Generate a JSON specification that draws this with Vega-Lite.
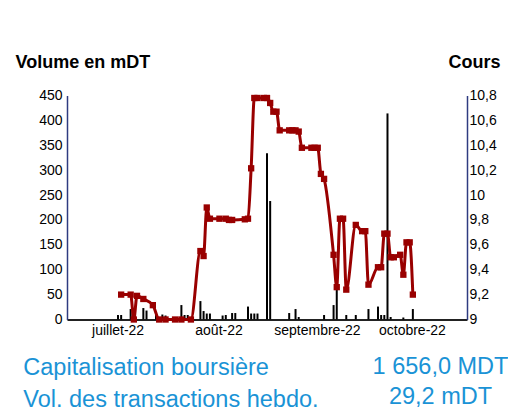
{
  "$schema": "https://vega.github.io/schema/vega-lite/v6.json",
  "width": 400,
  "height": 224,
  "autosize": "none",
  "padding": {"left": 67, "top": 95.5, "right": 41, "bottom": 94.5},
  "background": "white",
  "config": {
    "view": {"stroke": null},
    "font": "Liberation Sans",
    "axis": {"grid": false, "ticks": false, "tickSize": 0, "labelFont": "Liberation Sans", "labelFontSize": 14, "labelColor": "#000", "titleFont": "Liberation Sans", "labelOverlap": false}
  },
  "title": {
    "text": ["Capitalisation boursière", "Vol. des transactions hebdo."],
    "orient": "bottom", "anchor": "start", "frame": "group",
    "font": "Liberation Sans", "fontSize": 23.5, "fontWeight": "normal", "color": "#1a93d6",
    "lineHeight": 32, "baseline": "alphabetic", "offset": 0, "dx": -43.7, "dy": -33
  },
  "datasets": {
    "vol": [
      {"date": "2022-07-15T12:00", "volume": 9},
      {"date": "2022-07-16T12:00", "volume": 9},
      {"date": "2022-07-19T12:00", "volume": 21},
      {"date": "2022-07-23T12:00", "volume": 23},
      {"date": "2022-07-24T12:00", "volume": 18},
      {"date": "2022-07-27T12:00", "volume": 9},
      {"date": "2022-07-29T12:00", "volume": 10},
      {"date": "2022-07-30T12:00", "volume": 8},
      {"date": "2022-08-04T12:00", "volume": 29},
      {"date": "2022-08-05T12:00", "volume": 9},
      {"date": "2022-08-06T12:00", "volume": 9},
      {"date": "2022-08-10T12:00", "volume": 37},
      {"date": "2022-08-11T12:00", "volume": 17},
      {"date": "2022-08-12T12:00", "volume": 12},
      {"date": "2022-08-13T12:00", "volume": 12},
      {"date": "2022-08-17T12:00", "volume": 8},
      {"date": "2022-08-18T12:00", "volume": 9},
      {"date": "2022-08-20T12:00", "volume": 13},
      {"date": "2022-08-21T12:00", "volume": 13},
      {"date": "2022-08-25T12:00", "volume": 26},
      {"date": "2022-08-26T12:00", "volume": 12},
      {"date": "2022-08-27T12:00", "volume": 12},
      {"date": "2022-08-28T12:00", "volume": 12},
      {"date": "2022-08-31T12:00", "volume": 334},
      {"date": "2022-09-01T12:00", "volume": 238},
      {"date": "2022-09-07T12:00", "volume": 13},
      {"date": "2022-09-09T12:00", "volume": 21},
      {"date": "2022-09-10T12:00", "volume": 5},
      {"date": "2022-09-18T12:00", "volume": 9},
      {"date": "2022-09-21T12:00", "volume": 29},
      {"date": "2022-09-22T12:00", "volume": 66},
      {"date": "2022-09-25T12:00", "volume": 9},
      {"date": "2022-09-28T12:00", "volume": 9},
      {"date": "2022-10-02T12:00", "volume": 21},
      {"date": "2022-10-05T12:00", "volume": 26},
      {"date": "2022-10-06T12:00", "volume": 9},
      {"date": "2022-10-07T12:00", "volume": 9},
      {"date": "2022-10-08T12:00", "volume": 414},
      {"date": "2022-10-09T12:00", "volume": 5},
      {"date": "2022-10-13T12:00", "volume": 4},
      {"date": "2022-10-16T12:00", "volume": 21}
    ],
    "cours": [
      {"date": "2022-07-16T12:00", "cours": 9.2},
      {"date": "2022-07-19T12:00", "cours": 9.2},
      {"date": "2022-07-20T12:00", "cours": 9.0},
      {"date": "2022-07-21T12:00", "cours": 9.19},
      {"date": "2022-07-23T12:00", "cours": 9.165},
      {"date": "2022-07-26T12:00", "cours": 9.115},
      {"date": "2022-07-28T12:00", "cours": 9.0},
      {"date": "2022-07-30T12:00", "cours": 9.0},
      {"date": "2022-08-02T12:00", "cours": 9.0},
      {"date": "2022-08-04T12:00", "cours": 9.0},
      {"date": "2022-08-07T12:00", "cours": 9.0},
      {"date": "2022-08-10T12:00", "cours": 9.55},
      {"date": "2022-08-11T12:00", "cours": 9.51},
      {"date": "2022-08-12T12:00", "cours": 9.9},
      {"date": "2022-08-13T12:00", "cours": 9.81},
      {"date": "2022-08-16T12:00", "cours": 9.81},
      {"date": "2022-08-18T12:00", "cours": 9.81},
      {"date": "2022-08-19T12:00", "cours": 9.8},
      {"date": "2022-08-20T12:00", "cours": 9.8},
      {"date": "2022-08-24T12:00", "cours": 9.805},
      {"date": "2022-08-25T12:00", "cours": 9.81},
      {"date": "2022-08-26T12:00", "cours": 10.215},
      {"date": "2022-08-27T12:00", "cours": 10.78},
      {"date": "2022-08-28T12:00", "cours": 10.78},
      {"date": "2022-08-30T12:00", "cours": 10.78},
      {"date": "2022-08-31T12:00", "cours": 10.78},
      {"date": "2022-09-01T12:00", "cours": 10.74},
      {"date": "2022-09-02T12:00", "cours": 10.67},
      {"date": "2022-09-03T12:00", "cours": 10.67},
      {"date": "2022-09-04T12:00", "cours": 10.52},
      {"date": "2022-09-07T12:00", "cours": 10.52},
      {"date": "2022-09-08T12:00", "cours": 10.52},
      {"date": "2022-09-09T12:00", "cours": 10.52},
      {"date": "2022-09-10T12:00", "cours": 10.51},
      {"date": "2022-09-11T12:00", "cours": 10.38},
      {"date": "2022-09-14T12:00", "cours": 10.38},
      {"date": "2022-09-15T12:00", "cours": 10.38},
      {"date": "2022-09-16T12:00", "cours": 10.38},
      {"date": "2022-09-17T12:00", "cours": 10.17},
      {"date": "2022-09-18T12:00", "cours": 10.13},
      {"date": "2022-09-21T12:00", "cours": 9.52},
      {"date": "2022-09-22T12:00", "cours": 9.26},
      {"date": "2022-09-23T12:00", "cours": 9.81},
      {"date": "2022-09-24T12:00", "cours": 9.81},
      {"date": "2022-09-25T12:00", "cours": 9.24},
      {"date": "2022-09-28T12:00", "cours": 9.76},
      {"date": "2022-09-30T12:00", "cours": 9.71},
      {"date": "2022-10-01T12:00", "cours": 9.71},
      {"date": "2022-10-02T12:00", "cours": 9.28},
      {"date": "2022-10-05T12:00", "cours": 9.42},
      {"date": "2022-10-06T12:00", "cours": 9.42},
      {"date": "2022-10-07T12:00", "cours": 9.69},
      {"date": "2022-10-08T12:00", "cours": 9.69},
      {"date": "2022-10-09T12:00", "cours": 9.5},
      {"date": "2022-10-10T12:00", "cours": 9.5},
      {"date": "2022-10-12T12:00", "cours": 9.52},
      {"date": "2022-10-13T12:00", "cours": 9.36},
      {"date": "2022-10-14T12:00", "cours": 9.62},
      {"date": "2022-10-15T12:00", "cours": 9.62},
      {"date": "2022-10-16T12:00", "cours": 9.2}
    ]
  },
  "encoding": {
    "x": {
      "field": "date", "type": "temporal",
      "scale": {"domain": [{"year": 2022, "month": 7, "date": 1}, {"year": 2022, "month": 11, "date": 1}]},
      "axis": {
        "values": [
          {"year": 2022, "month": 7, "date": 15, "hours": 9},
          {"year": 2022, "month": 8, "date": 16, "hours": 5},
          {"year": 2022, "month": 9, "date": 16, "hours": 6},
          {"year": 2022, "month": 10, "date": 16, "hours": 5}
        ],
        "labelExpr": "['janvier','février','mars','avril','mai','juin','juillet','août','septembre','octobre','novembre','décembre'][month(datum.value)] + '-' + timeFormat(datum.value, '%y')",
        "labelPadding": 4, "labelFlush": false,
        "domainColor": "#222222", "domainWidth": 2,
        "title": ["1 656,0 MDT", "29,2 mDT"],
        "titleX": 373, "titleY": 53.8, "titleAlign": "center", "titleBaseline": "alphabetic", "titleAngle": 0,
        "titleFontSize": 23.5, "titleFontWeight": "normal", "titleColor": "#1a93d6", "titleLineHeight": 30
      }
    }
  },
  "layer": [
    {
      "data": {"name": "vol"},
      "mark": {"type": "bar", "color": "#000000", "size": 2},
      "encoding": {
        "y": {
          "field": "volume", "type": "quantitative",
          "scale": {"domain": [0, 450]},
          "axis": {
            "orient": "left",
            "values": [0, 50, 100, 150, 200, 250, 300, 350, 400, 450],
            "labelPadding": 5,
            "domainColor": "#2E3B80", "domainWidth": 1.5,
            "title": "Volume en mDT", "titleAngle": 0, "titleX": -52, "titleY": -27.8,
            "titleAlign": "left", "titleBaseline": "alphabetic",
            "titleFontSize": 18, "titleFontWeight": "bold", "titleColor": "#000000"
          }
        }
      }
    },
    {
      "data": {"name": "cours"},
      "encoding": {
        "y": {
          "field": "cours", "type": "quantitative",
          "scale": {"domain": [9, 10.8]},
          "axis": {
            "orient": "right",
            "values": [9, 9.2, 9.4, 9.6, 9.8, 10, 10.2, 10.4, 10.6, 10.8],
            "labelExpr": "replace(format(datum.value, '~g'), '.', ',')",
            "labelPadding": 2,
            "domainColor": "#2E3B80", "domainWidth": 1.5,
            "title": "Cours", "titleAngle": 0, "titleX": 33, "titleY": -27.8,
            "titleAlign": "right", "titleBaseline": "alphabetic",
            "titleFontSize": 18, "titleFontWeight": "bold", "titleColor": "#000000"
          }
        }
      },
      "layer": [
        {"mark": {"type": "line", "color": "#990000", "strokeWidth": 3, "interpolate": "monotone"}},
        {"mark": {"type": "point", "shape": "square", "filled": true, "size": 40, "color": "#990000", "opacity": 1}}
      ]
    }
  ],
  "resolve": {"scale": {"y": "independent"}}
}
